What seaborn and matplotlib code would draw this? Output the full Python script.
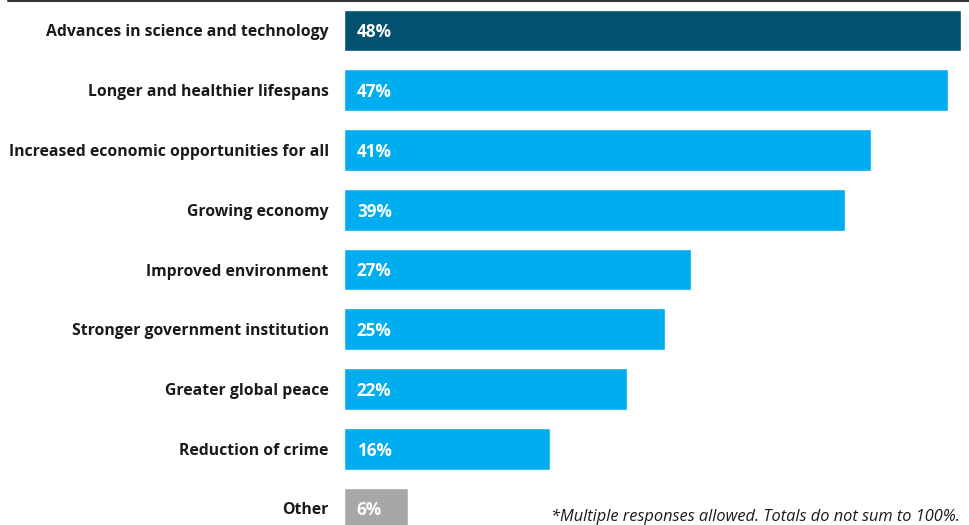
import matplotlib
matplotlib.use("Agg")
import matplotlib.pyplot as plt
from matplotlib.lines import Line2D
import seaborn as sns
import pandas as pd

categories = [
    "Advances in science and technology",
    "Longer and healthier lifespans",
    "Increased economic opportunities for all",
    "Growing economy",
    "Improved environment",
    "Stronger government institution",
    "Greater global peace",
    "Reduction of crime",
    "Other",
]
values = [48, 47, 41, 39, 27, 25, 22, 16, 5]
value_labels = ["48%", "47%", "41%", "39%", "27%", "25%", "22%", "16%", "6%"]
groups = ["top", "mid", "mid", "mid", "mid", "mid", "mid", "mid", "other"]
footnote = "*Multiple responses allowed. Totals do not sum to 100%."

palette = {"top": "#01516F", "mid": "#00AEEF", "other": "#A9A6A6"}

sns.set_theme(style="white")
plt.rcParams["font.family"] = ["Open Sans", "DejaVu Sans"]

df = pd.DataFrame({"category": categories, "value": values, "group": groups})

W, H = 970, 525
fig = plt.figure(figsize=(W / 100, H / 100), dpi=100)
left_px, right_px = 344, 961
ax = fig.add_axes([left_px / W, 0, (right_px - left_px) / W, 1])

sns.barplot(data=df, x="value", y="category", hue="group", palette=palette,
            orient="h", width=0.70, dodge=False, legend=False, ax=ax,
            saturation=1)

ax.set_xlim(0, 48)
y0, step = 30.5, 59.75
ax.set_ylim((H - y0) / step, -y0 / step)
ax.set_xlabel("")
ax.set_ylabel("")
ax.set_xticks([])
ax.tick_params(axis="y", length=0, pad=11)
for lab in ax.get_yticklabels():
    lab.set_fontweight("bold")
    lab.set_fontsize(11.3)
    lab.set_color("#1a1a1a")
for s in ax.spines.values():
    s.set_visible(False)

for i, (v, t) in enumerate(zip(values, value_labels)):
    ax.text(1.0, i + 0.03, t, color="white", fontweight="bold", fontsize=12.3,
            va="center", ha="left")

fig.text(960 / W, 1 - 517 / H, footnote, ha="right", va="center",
         fontsize=11.8, fontstyle="italic", color="#1a1a1a")

fig.add_artist(Line2D([8 / W, 1], [1 - 0.5 / H, 1 - 0.5 / H],
                      transform=fig.transFigure, color="#333333", lw=1.5))

fig.savefig("out.png", dpi=100)
